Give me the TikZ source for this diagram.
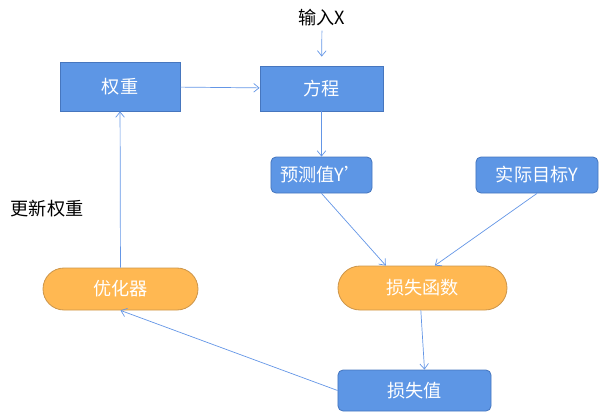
\documentclass[tikz,border=0pt]{standalone}
\usepackage{fontspec}
\setmainfont{Noto Sans CJK SC}
\usepackage{tikz}
\usetikzlibrary{arrows.meta,positioning,shapes.misc}
\definecolor{boxblue}{RGB}{93, 150, 229}
\definecolor{boxblueline}{RGB}{70, 118, 190}
\definecolor{pillorange}{RGB}{255, 184, 82}
\definecolor{pillline}{RGB}{205, 150, 75}
\definecolor{linkblue}{RGB}{100, 150, 230}

\begin{document}
\begin{tikzpicture}[x=0.03cm, y=-0.03cm, >={Straight Barb[length=1.6mm,width=2.6mm]},
    blockbox/.style={draw=boxblueline, fill=boxblue, text=white, line width=0.7pt, font=\fontsize{15.5}{18}\selectfont, inner sep=0pt},
    pillbox/.style={draw=pillline, fill=pillorange, text=white, line width=0.7pt, rounded rectangle, font=\fontsize{15.5}{18}\selectfont, inner sep=0pt},
    link/.style={->, draw=linkblue, line width=0.6pt},
    plain/.style={font=\fontsize{15.5}{18}\selectfont}]
    \useasboundingbox (0,0) rectangle (604,417);

    \node[blockbox, minimum width=3.6cm, minimum height=1.47cm] (weight) at (120,86.5) {权重};
    \node[blockbox, minimum width=3.69cm, minimum height=1.35cm] (eqn) at (321.5,88.5) {方程};
    \node[plain] (inx) at (322,18) {输入X};
    \node[blockbox, rounded corners=0.15cm, minimum width=3.03cm, minimum height=1.08cm] (pred) at (321.5,175) {预测值Y'};
    \node[blockbox, rounded corners=0.15cm, minimum width=3.66cm, minimum height=1.08cm] (target) at (537,175) {实际目标Y};
    \node[pillbox, minimum width=5.07cm, minimum height=1.32cm] (lossfn) at (422.5,288) {损失函数};
    \node[pillbox, minimum width=4.65cm, minimum height=1.26cm] (optim) at (120.5,289) {优化器};
    \node[blockbox, rounded corners=0.15cm, minimum width=4.59cm, minimum height=1.23cm] (lossval) at (414.5,390.5) {损失值};
    \node[plain] (update) at (47,209) {更新权重};

    \draw[link] (weight) -- (eqn);
    \draw[link, shorten >=0.27cm] (inx) -- (eqn);
    \draw[link] (eqn) -- (pred);
    \draw[link] (pred.south) -- ([xshift=-1.1cm]lossfn.north);
    \draw[link] (target.south) -- ([xshift=0.37cm]lossfn.north);
    \draw[link] ([xshift=-0.05cm]lossfn.south) -- ([xshift=0.3cm]lossval.north);
    \draw[link] (lossval.west) -- (optim.south);
    \draw[link] (optim) -- (weight);
\end{tikzpicture}
\end{document}
